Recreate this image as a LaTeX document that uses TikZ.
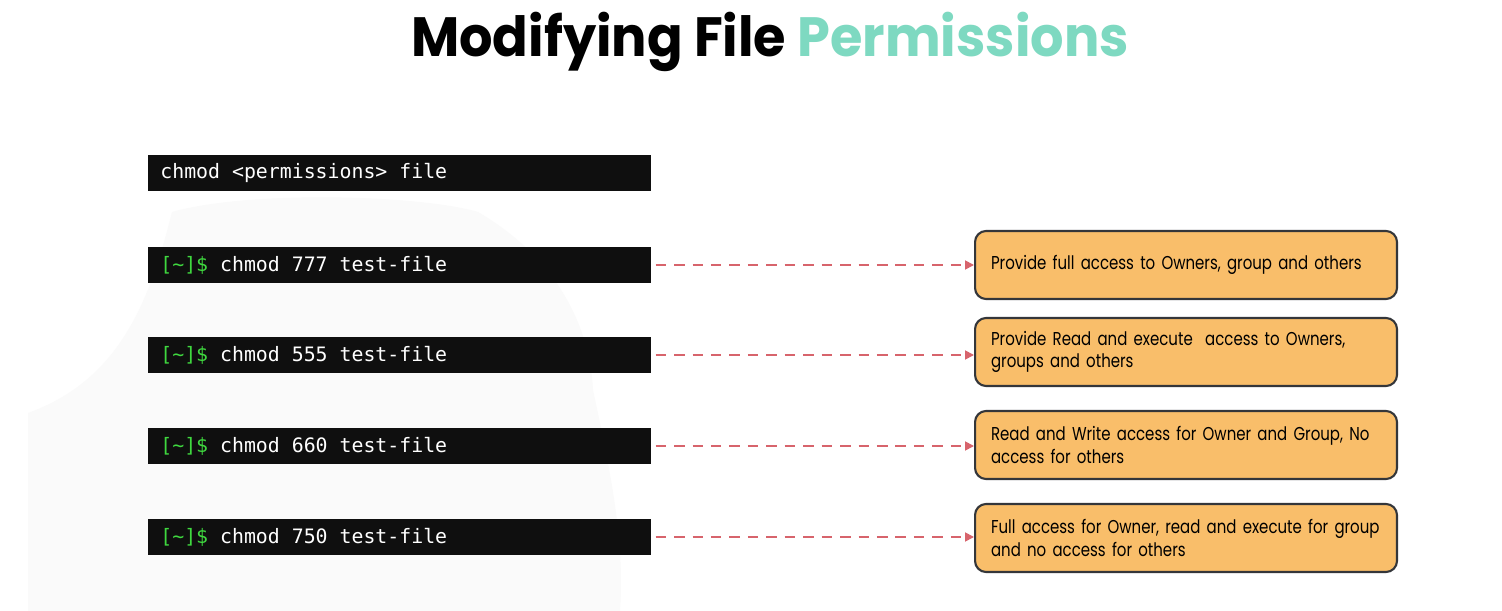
\documentclass[tikz,border=0pt]{standalone}
\usepackage{fontspec}
\setmainfont{Poppins}
\newfontfamily\notefont{Poppins}[FakeStretch=0.805]
\newfontfamily\headfont{Poppins}[FakeStretch=0.95]
\newfontfamily\termfont{DejaVu Sans Mono}
\newcommand\tsp{\hspace{0.602em}}
\usetikzlibrary{arrows.meta}
\definecolor{termgreen}{HTML}{3FD83F}
\definecolor{titleteal}{HTML}{7ED9C1}
\definecolor{notefill}{HTML}{F9BE6A}
\definecolor{noteline}{HTML}{34363A}
\definecolor{arrowred}{HTML}{D7646C}
\begin{document}
\begin{tikzpicture}[
   x=0.02cm, y=-0.02cm,
   cmdbox/.style={fill=black!94, text=white, anchor=west,
      minimum width=10.06cm, minimum height=0.72cm, inner xsep=0.24cm,
      text width=9.58cm, align=left, font=\termfont\fontsize{11.3}{13}\selectfont},
   notebox/.style={draw=noteline, line width=1.2pt, fill=notefill,
      rounded corners=0.22cm, anchor=west, minimum width=8.44cm,
      minimum height=1.36cm, inner xsep=0.32cm, text width=7.8cm,
      align=left, font=\notefont\fontsize{10.6}{13}\selectfont},
   link/.style={arrowred, line width=1pt, dash pattern=on 6pt off 4.5pt,
      -{Triangle[length=5pt,width=5pt]}}]

\useasboundingbox (0,0) rectangle (1502,611);
\fill[white] (0,0) rectangle (1502,611);
% faint background shape
\fill[black!2] (28,611) -- (28,413) .. controls (120,380) and (150,300) .. (172,212)
   .. controls (250,190) and (420,195) .. (478,212)
   .. controls (560,260) and (590,330) .. (593,390)
   .. controls (610,470) and (625,540) .. (620,611) -- cycle;

\node[font=\headfont\bfseries\fontsize{31.5}{36}\selectfont] (title) at (770,42)
   {Modifying File \textcolor{titleteal}{Permissions}};

\node[cmdbox] (syntax) at (148,173) {chmod\tsp<permissions>\tsp file};
\node[cmdbox] (c777) at (148,265) {\textcolor{termgreen}{[\textasciitilde]\$}\tsp chmod\tsp 777\tsp test-file};
\node[cmdbox] (c555) at (148,355) {\textcolor{termgreen}{[\textasciitilde]\$}\tsp chmod\tsp 555\tsp test-file};
\node[cmdbox] (c660) at (148,446) {\textcolor{termgreen}{[\textasciitilde]\$}\tsp chmod\tsp 660\tsp test-file};
\node[cmdbox] (c750) at (148,537) {\textcolor{termgreen}{[\textasciitilde]\$}\tsp chmod\tsp 750\tsp test-file};

\node[notebox] (n777) at (974,265) {Provide full access to Owners, group and others};
\node[notebox] (n555) at (974,352) {Provide Read and execute\ \ access to Owners, groups and others};
\node[notebox] (n660) at (974,445) {Read and Write access for Owner and Group, No access for others};
\node[notebox] (n750) at (974,538) {Full access for Owner, read and execute for group and no access for others};

\draw[link] (c777.east) ++(4,0) -- (c777.east -| n777.west);
\draw[link] (c555.east) ++(4,0) -- (c555.east -| n555.west);
\draw[link] (c660.east) ++(4,0) -- (c660.east -| n660.west);
\draw[link] (c750.east) ++(4,0) -- (c750.east -| n750.west);

\end{tikzpicture}
\end{document}
